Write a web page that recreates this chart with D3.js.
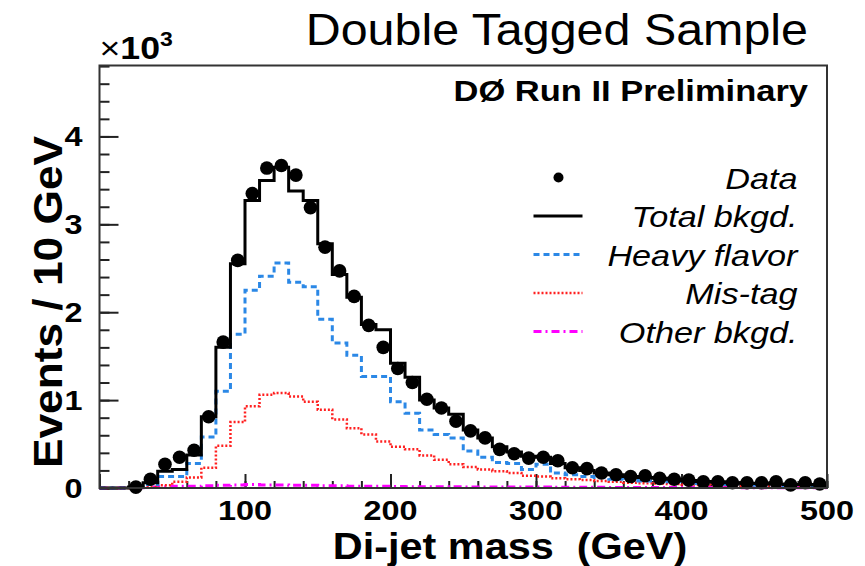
<!DOCTYPE html>
<html>
<head>
<meta charset="utf-8">
<script src="https://cdn.jsdelivr.net/npm/d3@7"></script>
<style>
  body { margin: 0; background: #fff; }
  text { font-family: "Liberation Sans", Arial, Helvetica, sans-serif; }
</style>
</head>
<body>
<div id="chart"></div>
<script>
// bin lower edges in GeV (10 GeV bins, 0-500)
var binEdges = d3.range(0, 500, 10);

// values in units of 10^3 events / 10 GeV
var dataPoints = [0, 0, 0.01, 0.10, 0.27, 0.35, 0.43, 0.81, 1.66, 2.59,
  3.35, 3.64, 3.67, 3.56, 3.19, 2.74, 2.47, 2.18, 1.85, 1.60,
  1.36, 1.20, 1.01, 0.91, 0.76, 0.65, 0.57, 0.44, 0.39, 0.34,
  0.35, 0.31, 0.23, 0.22, 0.17, 0.15, 0.13, 0.14, 0.11, 0.10,
  0.09, 0.07, 0.07, 0.06, 0.06, 0.06, 0.07, 0.035, 0.06, 0.045];

var totalBkgd = [0, 0, 0.01, 0.06, 0.19, 0.21, 0.375, 0.81, 1.60, 2.55,
  3.27, 3.50, 3.65, 3.38, 3.27, 2.78, 2.43, 2.17, 1.86, 1.80,
  1.42, 1.26, 1.00, 0.91, 0.84, 0.66, 0.57, 0.47, 0.41, 0.36,
  0.35, 0.28, 0.23, 0.20, 0.17, 0.15, 0.13, 0.12, 0.11, 0.10,
  0.085, 0.075, 0.07, 0.06, 0.055, 0.05, 0.045, 0.04, 0.04, 0.035];

var heavyFlavor = [0, 0, 0.005, 0.04, 0.13, 0.13, 0.28, 0.58, 1.10, 1.75,
  2.25, 2.41, 2.56, 2.34, 2.29, 1.92, 1.65, 1.51, 1.27, 1.27,
  0.98, 0.85, 0.66, 0.61, 0.57, 0.42, 0.35, 0.29, 0.28, 0.21,
  0.27, 0.17, 0.15, 0.13, 0.12, 0.10, 0.09, 0.08, 0.075, 0.07,
  0.06, 0.05, 0.045, 0.04, 0.035, 0.03, 0.03, 0.025, 0.025, 0.02];

var misTag = [0, 0, 0.002, 0.01, 0.03, 0.07, 0.12, 0.23, 0.48, 0.75,
  0.93, 1.06, 1.08, 1.04, 0.98, 0.89, 0.78, 0.68, 0.61, 0.53,
  0.47, 0.44, 0.37, 0.32, 0.27, 0.24, 0.21, 0.19, 0.17, 0.14,
  0.13, 0.11, 0.10, 0.09, 0.08, 0.07, 0.06, 0.055, 0.05, 0.045,
  0.04, 0.035, 0.03, 0.03, 0.025, 0.02, 0.02, 0.018, 0.015, 0.015];

var otherBkgd = [0, 0, 0.003, 0.01, 0.015, 0.02, 0.02, 0.025, 0.03, 0.035,
  0.04, 0.035, 0.035, 0.03, 0.03, 0.025, 0.025, 0.02, 0.02, 0.02,
  0.018, 0.015, 0.015, 0.014, 0.013, 0.012, 0.012, 0.011, 0.01, 0.01,
  0.01, 0.009, 0.009, 0.008, 0.008, 0.007, 0.007, 0.006, 0.006, 0.006,
  0.005, 0.005, 0.005, 0.005, 0.004, 0.004, 0.004, 0.004, 0.003, 0.003];

var xTicks = [100, 200, 300, 400, 500];
var yTicks = [0, 1, 2, 3, 4];

var legendItems = [
  {label: "Data", type: "dot"},
  {label: "Total bkgd.", color: "#000", dash: null, width: 3},
  {label: "Heavy flavor", color: "#2b88e6", dash: "6,4", width: 3},
  {label: "Mis-tag", color: "#ff2020", dash: "2,2", width: 2.5},
  {label: "Other bkgd.", color: "#ff00ff", dash: "8,4,2,4", width: 3}
];

var margin = {top: 65.5, right: 38, bottom: 78, left: 99.5},
    W = 865, H = 566,
    width = W - margin.left - margin.right,
    height = H - margin.top - margin.bottom;

var svg = d3.select("#chart").append("svg")
    .attr("width", W)
    .attr("height", H);

var g = svg.append("g")
    .attr("transform", "translate(" + margin.left + "," + margin.top + ")");

var x = d3.scaleLinear().domain([0, 500]).range([0, width]);
var y = d3.scaleLinear().domain([0, 4.807]).range([height, 0]);

// the picture is stretched sideways, so texts get a horizontal scale
function stext(parent, px, py, sx, anchor, size, weight) {
  return parent.append("text")
      .attr("transform", "translate(" + px + "," + py + ") scale(" + sx + ",1)")
      .attr("text-anchor", anchor)
      .style("font-size", size + "px")
      .style("font-weight", weight || "normal");
}

// ticks, inward like ROOT
var xMajor = d3.axisBottom(x).tickValues(d3.range(0, 501, 100)).tickSize(-14).tickFormat("");
var xMinor = d3.axisBottom(x).tickValues(d3.range(0, 501, 20)).tickSize(-7).tickFormat("");
var yMajor = d3.axisLeft(y).tickValues(yTicks).tickSize(-19).tickFormat("");
var yMinor = d3.axisLeft(y).tickValues(d3.range(0, 4.81, 0.2)).tickSize(-10).tickFormat("");

[[xMinor, "x"], [xMajor, "x"], [yMinor, "y"], [yMajor, "y"]].forEach(function(a) {
  var ax = g.append("g")
      .attr("transform", a[1] == "x" ? "translate(0," + height + ")" : null)
      .call(a[0]);
  ax.select(".domain").remove();
  ax.selectAll("line").attr("stroke", "#222").attr("stroke-width", 2);
});

// tick labels
xTicks.forEach(function(d) {
  stext(g, x(d), height + 32, 1.2, "middle", 27, "bold").text(d);
});
yTicks.forEach(function(d) {
  stext(g, -17, y(d) + 10, 1.2, "end", 27, "bold").text(d);
});

// exponent
var ex = stext(g, 0, -7, 1.15, "start", 31, "normal");
ex.append("tspan").text("\u00d7");
ex.append("tspan").style("font-weight", "bold").text("10");
ex.append("tspan").attr("dy", -13).style("font-size", "20px").style("font-weight", "bold").text("3");

// histograms as steps
var step = d3.line()
    .x(function(d) { return x(d[0]); })
    .y(function(d) { return y(d[1]); })
    .curve(d3.curveStepAfter);

function histPts(vals) {
  var pts = binEdges.map(function(e, i) { return [e, vals[i]]; });
  pts.push([500, vals[vals.length - 1]]);
  return pts;
}

var series = [
  [otherBkgd, legendItems[4]],
  [misTag, legendItems[3]],
  [heavyFlavor, legendItems[2]],
  [totalBkgd, legendItems[1]]
];

series.forEach(function(s) {
  g.append("path")
      .datum(histPts(s[0]))
      .attr("fill", "none")
      .attr("stroke", s[1].color)
      .attr("stroke-width", s[1].width)
      .attr("stroke-dasharray", s[1].dash)
      .attr("d", step);
});

// data points
g.selectAll(".pt").data(dataPoints.map(function(v, i) { return [binEdges[i] + 5, v]; })
      .filter(function(d) { return d[1] > 0; }))
  .enter().append("circle")
    .attr("class", "pt")
    .attr("cx", function(d) { return x(d[0]); })
    .attr("cy", function(d) { return y(d[1]); })
    .attr("r", 6.8)
    .attr("fill", "#000");

// frame
g.append("rect")
    .attr("width", width).attr("height", height)
    .attr("fill", "none").attr("stroke", "#333").attr("stroke-width", 2);

// legend
var leg = g.append("g");
legendItems.forEach(function(d, i) {
  var ly = 112 + i * 38.5;
  if (d.type == "dot") {
    leg.append("circle").attr("cx", 459).attr("cy", ly).attr("r", 5).attr("fill", "#000");
  } else {
    leg.append("line").attr("x1", 434).attr("x2", 483).attr("y1", ly).attr("y2", ly)
        .attr("stroke", d.color).attr("stroke-width", d.width).attr("stroke-dasharray", d.dash);
  }
  stext(leg, 698, ly + 11, 1.18, "end", 29, "normal")
      .style("font-style", "italic")
      .text(d.label);
});

// texts
stext(svg, 808, 45, 1.1, "end", 44).text("Double Tagged Sample");
stext(svg, 808, 101, 1.15, "end", 30, "bold").text("D\u00d8 Run II Preliminary");

svg.append("text")
    .attr("transform", "translate(62,302) rotate(-90) scale(1.08,1)")
    .attr("text-anchor", "middle")
    .style("font-size", "41px").style("font-weight", "bold")
    .text("Events / 10 GeV");

stext(svg, 510, 559, 1.12, "middle", 37, "bold").style("white-space", "pre")
    .text("Di-jet mass  (GeV)");
</script>
</body>
</html>
